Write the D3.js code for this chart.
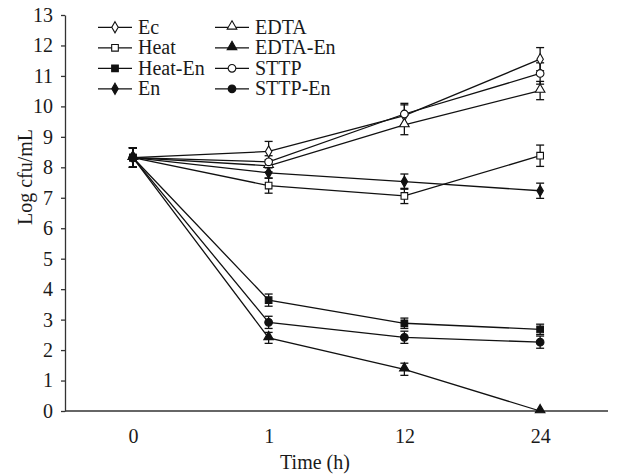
<!DOCTYPE html>
<html>
<head>
<meta charset="utf-8">
<script src="https://cdn.jsdelivr.net/npm/d3@7"></script>
<style>
  body { margin: 0; background: #fff; }
  svg { display: block; }
  text { font-family: "Liberation Serif", "DejaVu Serif", serif; fill: #1a1a1a; }
</style>
</head>
<body>
<svg id="chart" width="619" height="475"></svg>
<script>
const times = ["0", "1", "12", "24"];
const yTicks = [0,1,2,3,4,5,6,7,8,9,10,11,12,13];

const ecVals      = [8.32, 8.52, 9.70, 11.55];
const ecErr       = [0.32, 0.33, 0.35, 0.38];
const heatVals    = [8.32, 7.40, 7.06, 8.38];
const heatErr     = [0.32, 0.25, 0.25, 0.35];
const heatEnVals  = [8.32, 3.64, 2.88, 2.68];
const heatEnErr   = [0.32, 0.20, 0.17, 0.17];
const enVals      = [8.32, 7.82, 7.53, 7.23];
const enErr       = [0.32, 0.18, 0.25, 0.25];
const edtaVals    = [8.32, 8.05, 9.39, 10.52];
const edtaErr     = [0.32, 0.20, 0.32, 0.30];
const edtaEnVals  = [8.32, 2.40, 1.37, 0.00];
const edtaEnErr   = [0.32, 0.18, 0.20, 0.00];
const sttpVals    = [8.32, 8.18, 9.75, 11.08];
const sttpErr     = [0.32, 0.20, 0.35, 0.35];
const sttpEnVals  = [8.32, 2.91, 2.42, 2.26];
const sttpEnErr   = [0.32, 0.20, 0.20, 0.20];

const seriesNames = ["Ec", "Heat", "Heat-En", "En", "EDTA", "EDTA-En", "STTP", "STTP-En"];
const seriesShapes = ["diamond", "square", "square", "diamond", "triangle", "triangle", "circle", "circle"];
const seriesFilled = [false, false, true, true, false, true, false, true];

const seriesValues = [ecVals, heatVals, heatEnVals, enVals, edtaVals, edtaEnVals, sttpVals, sttpEnVals];
const seriesErrors = [ecErr, heatErr, heatEnErr, enErr, edtaErr, edtaEnErr, sttpErr, sttpEnErr];

const series = seriesNames.map((n, i) => ({
  name: n, shape: seriesShapes[i], filled: seriesFilled[i],
  pts: times.map((t, j) => ({ t, v: seriesValues[i][j], e: seriesErrors[i][j] }))
}));

const svg = d3.select("#chart");
const mLeft = 65, mRight = 608, mTop = 15, mBottom = 411;
const FS = "20px";

const x = d3.scalePoint().domain(times).range([mLeft, mRight]).padding(0.5);
const y = d3.scaleLinear().domain([0, 13]).range([mBottom, mTop]);

// Y axis
const yAxis = svg.append("g").attr("transform", `translate(${mLeft},0)`)
  .call(d3.axisLeft(y).tickValues(yTicks).tickSize(4).tickSizeOuter(0).tickPadding(8));
yAxis.selectAll("text").style("font-size", FS).style("font-family", "Liberation Serif, serif").attr("fill", "#1a1a1a");
yAxis.selectAll("line,path").attr("stroke", "#333").attr("stroke-width", 1.3);

// X axis
const xAxis = svg.append("g").attr("transform", `translate(0,${mBottom})`)
  .call(d3.axisBottom(x).tickSize(0).tickPadding(18));
xAxis.select(".domain").attr("d", `M${mLeft},0H${mRight}`).attr("stroke", "#333").attr("stroke-width", 1.3);
xAxis.selectAll("text").style("font-size", FS).style("font-family", "Liberation Serif, serif").attr("fill", "#1a1a1a");

// Axis titles
svg.append("text").attr("x", 315).attr("y", 469).attr("text-anchor", "middle")
  .style("font-size", FS).text("Time (h)");
svg.append("text").attr("transform", `translate(32,177) rotate(-90)`)
  .attr("text-anchor", "middle").style("font-size", FS).text("Log cfu/mL");

const symType = { diamond: d3.symbolDiamond, square: d3.symbolSquare, triangle: d3.symbolTriangle, circle: d3.symbolCircle };
const symSize = { diamond: 36, square: 44, triangle: 40, circle: 46 };
function sym(shape) { return d3.symbol().type(symType[shape]).size(symSize[shape])(); }

const line = d3.line().x(d => x(d.t)).y(d => y(d.v));
const g = svg.append("g");

// lines
series.forEach(s => {
  g.append("path").attr("d", line(s.pts)).attr("fill", "none").attr("stroke", "#111").attr("stroke-width", 1.3);
});
// error bars
series.forEach(s => {
  s.pts.forEach(p => {
    if (p.e <= 0) return;
    const cx = x(p.t), y1 = y(p.v + p.e), y2 = y(p.v - p.e);
    g.append("line").attr("x1", cx).attr("x2", cx).attr("y1", y1).attr("y2", y2).attr("stroke", "#111").attr("stroke-width", 1.3);
    g.append("line").attr("x1", cx - 4).attr("x2", cx + 4).attr("y1", y1).attr("y2", y1).attr("stroke", "#111").attr("stroke-width", 1.3);
    g.append("line").attr("x1", cx - 4).attr("x2", cx + 4).attr("y1", y2).attr("y2", y2).attr("stroke", "#111").attr("stroke-width", 1.3);
  });
});
// markers
series.forEach(s => {
  s.pts.forEach(p => {
    g.append("path").attr("d", sym(s.shape))
      .attr("transform", `translate(${x(p.t)},${y(p.v) - (s.shape === "triangle" ? 1 : 0)})`)
      .attr("fill", s.filled ? "#111" : "#fff").attr("stroke", "#111").attr("stroke-width", 1.1);
  });
});

// Legend
const legCols = [98, 215];
const legRows = [27.3, 47.8, 68.3, 88.8];
series.forEach((s, i) => {
  const col = Math.floor(i / 4), row = i % 4;
  const lx = legCols[col], ly = legRows[row];
  const lg = svg.append("g").attr("transform", `translate(${lx},${ly})`);
  lg.append("line").attr("x1", 0).attr("x2", 34).attr("y1", 0).attr("y2", 0).attr("stroke", "#111").attr("stroke-width", 1.3);
  lg.append("path").attr("d", sym(s.shape)).attr("transform", `translate(17,${s.shape === "triangle" ? -1 : 0})`)
    .attr("fill", s.filled ? "#111" : "#fff").attr("stroke", "#111").attr("stroke-width", 1.1);
  lg.append("text").attr("x", 40).attr("y", 6.5).style("font-size", FS).text(s.name);
});
</script>
</body>
</html>
